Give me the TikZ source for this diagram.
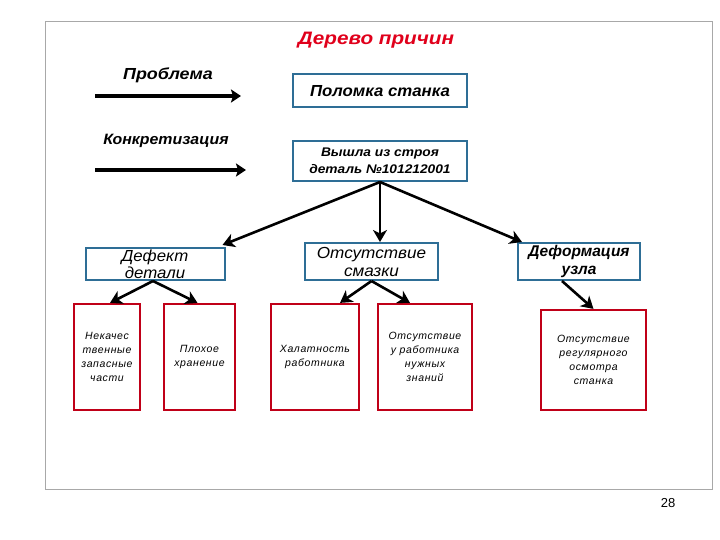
\documentclass[tikz,border=0pt]{standalone}
\usepackage{fontspec}
\setmainfont{Liberation Sans}
\usetikzlibrary{arrows.meta}
\definecolor{bordoB}{HTML}{2E6E96}
\definecolor{bordoR}{HTML}{C00018}
\definecolor{rossoT}{HTML}{E0001B}
\definecolor{cornice}{HTML}{A8A8A8}
\newcommand{\largo}[1]{\addfontfeature{FakeStretch=#1}}
\begin{document}
\begin{tikzpicture}[
			x=1pt, y=-1pt,
			nodoB/.style={draw=bordoB, line width=2pt, align=center,
				inner sep=0pt, fill=white},
			nodoR/.style={draw=bordoR, line width=2.2pt, align=center,
				inner sep=0pt, minimum height=106pt,
				font=\itshape\fontsize{10.5}{14}\selectfont\addfontfeature{LetterSpace=6}},
			freccia/.style={-{Stealth[length=12pt, width=14pt, inset=3.5pt]},
				line width=2.6pt, black},
			legenda/.style={-{Stealth[length=10pt, width=13pt, inset=2pt]},
				line width=3.8pt, black}]
			
			\useasboundingbox (0,0) rectangle (720,540);
			
			%% cornice della pagina
			\draw[cornice, line width=1pt] (45,22) rectangle (712,489);
			\node (pag) at (668,503) {\fontsize{13}{15}\selectfont 28};
			
			%% titolo
			\node[font=\bfseries\itshape\fontsize{18}{20}\selectfont\largo{1.15}, text=rossoT]
				(titolo) at (376,40) {Дерево причин};
			
			%% legenda: due frecce
			\node[font=\bfseries\itshape\fontsize{16}{18}\selectfont\largo{1.12}]
				(lprob) at (168,75) {Проблема};
			\coordinate (p0) at (95,96);
			\coordinate (p1) at (241,96);
			\draw[legenda] (p0) -- (p1);
			
			\node[font=\bfseries\itshape\fontsize{15}{18}\selectfont\largo{1.06}]
				(lconc) at (166,141) {Конкретизация};
			\coordinate (c0) at (95,170);
			\coordinate (c1) at (246,170);
			\draw[legenda] (c0) -- (c1);
			
			%% problema e concretizzazione
			\node[nodoB, minimum width=174pt, minimum height=33pt,
				font=\bfseries\itshape\fontsize{16}{19}\selectfont\largo{1.05}]
				(pol) at (380,91) {Поломка станка};
			\node[nodoB, minimum width=174pt, minimum height=40pt,
				font=\bfseries\itshape\fontsize{12.5}{17}\selectfont\largo{1.1}]
				(vys) at (380,161) {Вышла из строя\\деталь №101212001};
			
			%% cause di primo livello
			\node[nodoB, minimum width=139pt, minimum height=32pt,
				font=\itshape\fontsize{16}{17}\selectfont\largo{1.05}]
				(def) at (155,264) {Дефект\\детали};
			\node[nodoB, minimum width=133pt, minimum height=37pt,
				font=\itshape\fontsize{16}{18}\selectfont\largo{1.07}]
				(smaz) at (371.5,261.5) {Отсутствие\\смазки};
			\node[nodoB, minimum width=122pt, minimum height=37pt,
				font=\bfseries\itshape\fontsize{15.5}{18}\selectfont]
				(deform) at (579,261.5) {Деформация\\узла};
			
			%% cause di secondo livello
			\node[nodoR, minimum width=66pt] (r1) at (107,357)
				{Некачес\\твенные\\запасные\\части};
			\node[nodoR, minimum width=71pt] (r2) at (199.5,357)
				{Плохое\\хранение};
			\node[nodoR, minimum width=88pt] (r3) at (315,357)
				{Халатность\\работника};
			\node[nodoR, minimum width=94pt] (r4) at (425,357)
				{Отсутствие\\у работника\\нужных\\знаний};
			\node[nodoR, minimum width=105pt, minimum height=100pt] (r5) at (593.5,360)
				{Отсутствие\\регулярного\\осмотра\\станка};
			
			%% frecce dell'albero
			\draw[freccia] (vys.south) -- ([xshift=-3,yshift=2]def.north east);
			\draw[freccia] (vys.south) -- ([xshift=8.5]smaz.north);
			\draw[freccia] (vys.south) -- ([xshift=5]deform.north west);
			
			\draw[freccia] ([xshift=-2]def.south) -- ([xshift=3]r1.north);
			\draw[freccia] ([xshift=-2]def.south) -- ([xshift=-2]r2.north);
			\draw[freccia] (smaz.south) -- ([xshift=25]r3.north);
			\draw[freccia] (smaz.south) -- ([xshift=-15]r4.north);
			\draw[freccia] ([xshift=-17]deform.south) -- (r5.north);
			
		\end{tikzpicture}
\end{document}
